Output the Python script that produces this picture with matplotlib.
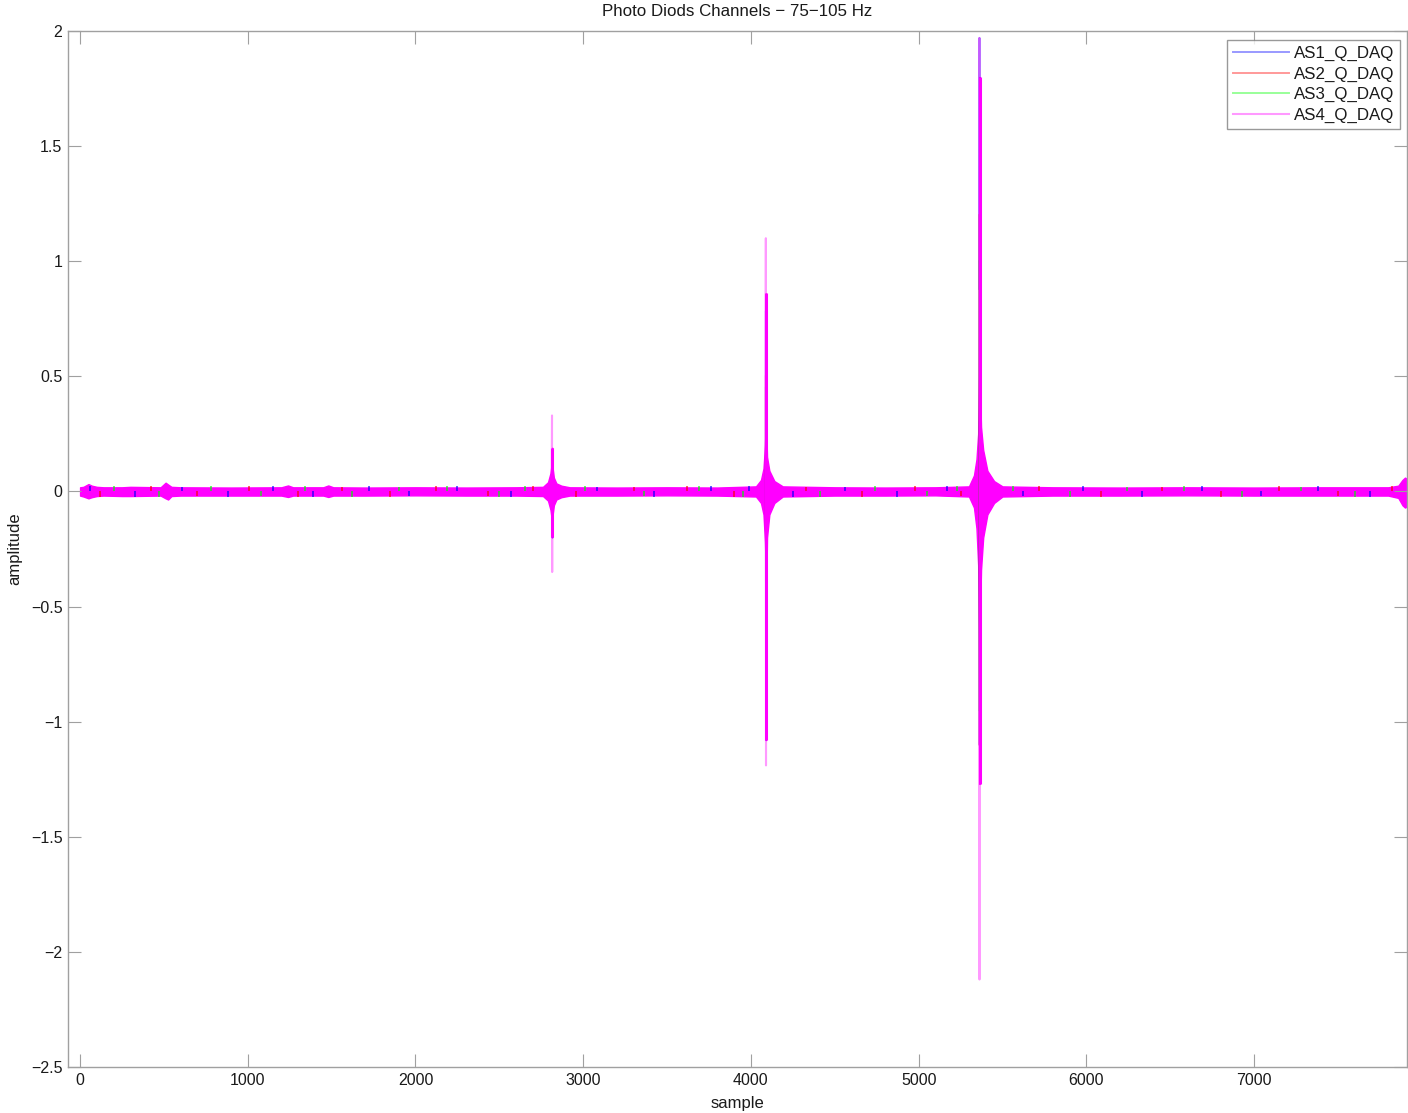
import matplotlib
matplotlib.use("Agg")
import matplotlib.pyplot as plt
from matplotlib.ticker import FuncFormatter, FixedLocator

plt.rcParams['font.family'] = ['Liberation Sans', 'DejaVu Sans']

NaN = float("nan")

# ---------------- data ----------------
channels = ["AS1_Q_DAQ", "AS2_Q_DAQ", "AS3_Q_DAQ", "AS4_Q_DAQ"]
colors = ["#0000ff", "#ff0000", "#00ff00", "#ff00ff"]

x_ticks = [0, 1000, 2000, 3000, 4000, 5000, 6000, 7000]
y_ticks = [-2.5, -2, -1.5, -1, -0.5, 0, 0.5, 1, 1.5, 2]

# AS4 (magenta) dense min/max envelope
as4_env_x = [0, 20, 50, 70, 100, 140, 250, 300, 480, 510, 525, 545, 600, 900,
             1200, 1240, 1270, 1450, 1480, 1510, 1700, 2000, 2300, 2600, 2760,
             2790, 2805, 2812, 2815, 2818, 2825, 2840, 2870, 2920, 3200, 3500,
             3800, 4030, 4060, 4075, 4084, 4088, 4090, 4092, 4096, 4110, 4140,
             4190, 4500, 4800, 5100, 5300, 5330, 5345, 5355, 5360, 5363, 5366,
             5372, 5385, 5410, 5450, 5500, 5800, 6200, 6600, 7000, 7400, 7800,
             7860, 7885, 7900, 7912]
as4_env_hi = [0.018, 0.02, 0.032, 0.025, 0.02, 0.018, 0.018, 0.02, 0.018, 0.038,
              0.03, 0.02, 0.018, 0.017, 0.018, 0.026, 0.018, 0.018, 0.026, 0.018,
              0.017, 0.018, 0.017, 0.018, 0.02, 0.04, 0.08, 0.12, 0.19, 0.1,
              0.06, 0.035, 0.025, 0.018, 0.017, 0.018, 0.017, 0.022, 0.05, 0.1,
              0.2, 0.3, 0.86, 0.26, 0.15, 0.09, 0.045, 0.022, 0.018, 0.017,
              0.018, 0.022, 0.07, 0.14, 0.25, 0.5, 1.80, 0.45, 0.28, 0.18,
              0.09, 0.045, 0.022, 0.018, 0.017, 0.018, 0.017, 0.018, 0.018,
              0.025, 0.05, 0.06, 0.055]
as4_env_lo = [-0.018, -0.022, -0.03, -0.025, -0.02, -0.018, -0.02, -0.02, -0.018, -0.03,
              -0.035, -0.02, -0.018, -0.018, -0.018, -0.024, -0.018, -0.018, -0.024, -0.018,
              -0.018, -0.017, -0.018, -0.018, -0.02, -0.04, -0.08, -0.12, -0.2, -0.1,
              -0.06, -0.035, -0.025, -0.018, -0.018, -0.017, -0.018, -0.022, -0.05, -0.1,
              -0.22, -0.35, -1.08, -0.4, -0.2, -0.1, -0.05, -0.022, -0.018, -0.018,
              -0.017, -0.022, -0.07, -0.16, -0.32, -0.6, -1.27, -0.55, -0.34, -0.2,
              -0.1, -0.05, -0.022, -0.018, -0.018, -0.017, -0.018, -0.018, -0.018,
              -0.028, -0.06, -0.07, -0.065]

# AS4 dense spike cores (sample, max, min)
as4_core_x = [2815, 4090, 5363]
as4_core_hi = [0.19, 0.86, 1.80]
as4_core_lo = [-0.20, -1.08, -1.27]

# sparse spike samples (NaN separates the three bursts)
as4_spike_x = [2812, 2814, 2815, 2816, 2818, NaN,
               4087, 4089, 4090, 4091, 4093, NaN,
               5360, 5362, 5363, 5364, 5366]
as4_spike_y = [0.05, 0.33, -0.35, 0.1, -0.05, NaN,
               0.1, 1.10, -1.19, 0.2, -0.1, NaN,
               0.2, 1.97, -2.12, 0.3, -0.2]

as1_spike_x = [2814, 2815, 2816, NaN, 4089, 4090, 4091, NaN,
               5362, 5363, 5364, 5365]
as1_spike_y = [0.08, -0.2, 0.05, NaN, 0.78, -1.08, 0.2, NaN,
               0.88, 1.97, -1.1, 0.3]
as2_spike_x = [4089, 4090, NaN, 5362, 5363]
as2_spike_y = [0.5, -0.7, NaN, 1.2, -1.1]
as3_spike_x = [2814, 2815, NaN, 4089, 4090, NaN, 5362, 5363]
as3_spike_y = [0.12, -0.1, NaN, 0.45, -0.6, NaN, 1.0, -0.95]

# local noise extremes of AS1/AS2/AS3 (sample, value)
as1_peak_x = [60, 330, 610, 880, 1150, 1390, 1720, 1960, 2250, 2570, 3080, 3420,
              3760, 3990, 4250, 4560, 4870, 5170, 5620, 5980, 6330, 6690, 7040,
              7380, 7690]
as1_peak_y = [0.022, -0.023, 0.021, -0.022, 0.022, -0.022, 0.023, -0.021, 0.022,
              -0.023, 0.021, -0.023, 0.022, 0.022, -0.023, 0.021, -0.022, 0.023,
              -0.021, 0.023, -0.022, 0.022, -0.021, 0.022, -0.022]
as2_peak_x = [120, 420, 700, 1010, 1300, 1560, 1850, 2120, 2430, 2700, 2960, 3300,
              3620, 3900, 4330, 4660, 4980, 5250, 5720, 6090, 6450, 6800, 7150,
              7500, 7820]
as2_peak_y = [-0.022, 0.022, -0.021, 0.022, -0.023, 0.021, -0.022, 0.023, -0.021,
              0.022, -0.022, 0.021, 0.022, -0.022, 0.021, -0.023, 0.022, -0.021,
              0.022, -0.022, 0.021, -0.022, 0.022, -0.021, 0.022]
as3_peak_x = [200, 470, 780, 1080, 1340, 1620, 1900, 2190, 2500, 2650, 3010, 3360,
              3690, 3950, 4410, 4740, 5050, 5230, 5560, 5900, 6240, 6580, 6930,
              7280, 7600]
as3_peak_y = [0.023, -0.022, 0.022, -0.021, 0.022, -0.022, 0.021, 0.022, -0.022,
              0.023, 0.022, -0.021, 0.022, -0.022, -0.023, 0.022, -0.021, 0.022,
              0.022, -0.022, 0.021, 0.023, -0.022, 0.021, -0.022]

# ---------------- figure ----------------
W, H = 1408, 1113
fig = plt.figure(figsize=(W / 100, H / 100), dpi=100)
ax = fig.add_axes([68 / W, 46 / H, (1407 - 68) / W, (1067 - 31) / H])

spine_c = "#a0a0a0"
alpha_line = 0.4

spikes = [(as1_spike_x, as1_spike_y), (as2_spike_x, as2_spike_y),
          (as3_spike_x, as3_spike_y)]
peaks = [(as1_peak_x, as1_peak_y), (as2_peak_x, as2_peak_y),
         (as3_peak_x, as3_peak_y)]
handles = []
for i in range(3):
    px, py = peaks[i]
    ax.vlines(px, 0, py, color=colors[i], lw=1.1, alpha=0.8)
    sx, sy = spikes[i]
    h, = ax.plot(sx, sy, color=colors[i], alpha=alpha_line, lw=1.4, label=channels[i])
    handles.append(h)

ax.fill_between(as4_env_x, as4_env_lo, as4_env_hi, color=colors[3], lw=1.0,
                edgecolor=colors[3])
ax.vlines(as4_core_x, as4_core_lo, as4_core_hi, color=colors[3], lw=2.2)
h4, = ax.plot(as4_spike_x, as4_spike_y, color=colors[3], alpha=alpha_line, lw=1.5,
              label=channels[3])
handles.append(h4)

ax.set_xlim(-72, 7912)
ax.set_ylim(-2.5, 2)
ax.xaxis.set_major_locator(FixedLocator(x_ticks))
ax.yaxis.set_major_locator(FixedLocator(y_ticks))
ax.yaxis.set_major_formatter(FuncFormatter(lambda v, p: ("%g" % v).replace("-", "\u2212")))
ax.xaxis.set_major_formatter(FuncFormatter(lambda v, p: "%d" % v))

for s in ax.spines.values():
    s.set_color(spine_c)
    s.set_linewidth(1.0)
ax.tick_params(direction="in", length=9.5, width=0.8, color=spine_c,
               top=True, right=True, labelsize=11.5, labelcolor="#1a1a1a", pad=4)

ax.set_title("Photo Diods Channels \u2212 75\u2212105 Hz", fontsize=12.2, pad=10.5,
             color="#1a1a1a")
ax.set_xlabel("sample", fontsize=12, labelpad=6, color="#1a1a1a")
ax.set_ylabel("amplitude", fontsize=12, labelpad=6, color="#1a1a1a")

leg = ax.legend(handles=handles, loc="upper right",
                bbox_to_anchor=(1400 / W, (H - 40) / H), bbox_transform=fig.transFigure,
                fontsize=12.2, frameon=True, fancybox=False, borderaxespad=0,
                handlelength=3.3, handletextpad=0.3, labelspacing=0.32,
                borderpad=0.35)
leg.get_frame().set_edgecolor("#808080")
leg.get_frame().set_linewidth(1.0)
for t in leg.get_texts():
    t.set_color("#1a1a1a")

fig.savefig("out.png", dpi=100)
